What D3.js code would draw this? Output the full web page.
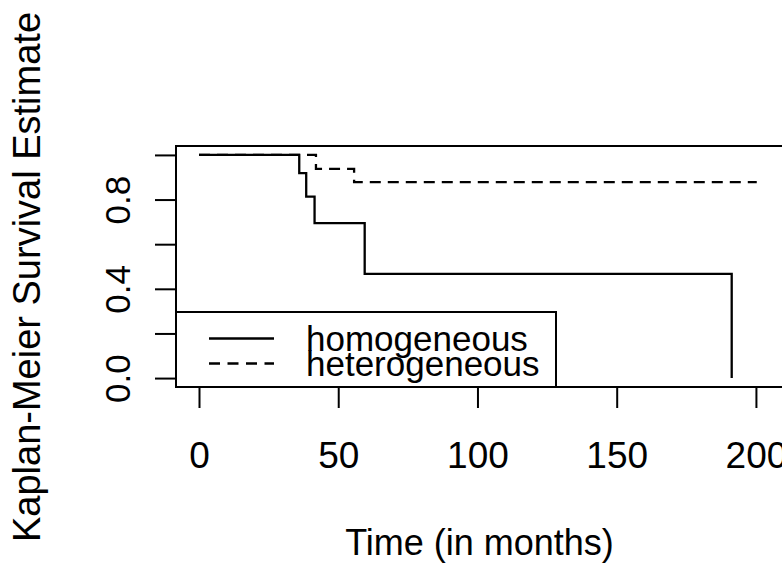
<!DOCTYPE html>
<html>
<head>
<meta charset="utf-8">
<script src="https://cdn.jsdelivr.net/npm/d3@7"></script>
<style>
  html, body { margin: 0; padding: 0; background: #fff; }
  svg { display: block; }
  text { font-family: "Liberation Sans", Arial, sans-serif; fill: #000; }
</style>
</head>
<body>
<div id="chart"></div>
<script>
// ---- data ----
const homTimes = [0, 36, 38.5, 41.5, 59.5, 191.3];
const homSurv  = [1, 0.918, 0.813, 0.694, 0.467, 0];
const hetTimes = [0, 42, 55.7, 200.3];
const hetSurv  = [1, 0.9375, 0.878, 0.878];
const xTicks = [0, 50, 100, 150, 200];
const yTicks = [0, 0.2, 0.4, 0.6, 0.8, 1.0];
const yTickLabels = ["0.0", "", "0.4", "", "0.8", ""];
const legendLabels = ["homogeneous", "heterogeneous"];
const xTitle = "Time (in months)";
const yTitle = "Kaplan-Meier Survival Estimate";

const W = 782, H = 564;
const box = { left: 176, right: 786, top: 146, bottom: 387 };

const svg = d3.select("#chart").append("svg").attr("width", W).attr("height", H);

const x = d3.scaleLinear().domain([-8.26, 210.8]).range([box.left, box.right]);
const y = d3.scaleLinear().domain([-0.04, 1.04]).range([box.bottom, box.top]);

const line = d3.line().x(d => x(d[0])).y(d => y(d[1])).curve(d3.curveStepAfter);

const hetData = hetTimes.map((t, i) => [t, hetSurv[i]]);
const homData = homTimes.map((t, i) => [t, homSurv[i]]);

svg.append("path").attr("d", line(hetData))
  .attr("fill", "none").attr("stroke", "#000").attr("stroke-width", 2.3)
  .attr("stroke-dasharray", "11,7");
svg.append("path").attr("d", line(homData))
  .attr("fill", "none").attr("stroke", "#000").attr("stroke-width", 2.3);

// plot box
svg.append("rect")
  .attr("x", box.left).attr("y", box.top)
  .attr("width", box.right - box.left).attr("height", box.bottom - box.top)
  .attr("fill", "none").attr("stroke", "#000").attr("stroke-width", 2);

// x axis
const xAxis = d3.axisBottom(x).tickValues(xTicks).tickSize(21).tickPadding(1).tickFormat(d3.format("d"));
const gx = svg.append("g").attr("transform", `translate(0,${box.bottom})`).call(xAxis);
gx.select(".domain").remove();
gx.selectAll(".tick line").attr("stroke", "#000").attr("stroke-width", 2);
gx.selectAll(".tick text").attr("font-size", 37).attr("fill", "#000")
  .attr("font-family", "Liberation Sans, Arial, sans-serif")
  .attr("dy", null).attr("y", 81);

// y axis
const yAxis = d3.axisLeft(y).tickValues(yTicks).tickSize(21).tickFormat((d, i) => yTickLabels[i]);
const gy = svg.append("g").attr("transform", `translate(${box.left},0)`).call(yAxis);
gy.select(".domain").remove();
gy.selectAll(".tick line").attr("stroke", "#000").attr("stroke-width", 2);
gy.selectAll(".tick text")
  .attr("font-size", 35).attr("fill", "#000")
  .attr("font-family", "Liberation Sans, Arial, sans-serif")
  .attr("x", null).attr("dy", null)
  .attr("text-anchor", "middle")
  .attr("transform", "translate(-46,0) rotate(-90)");

// axis titles
svg.append("text").attr("x", 479.5).attr("y", 555)
  .attr("text-anchor", "middle").attr("font-size", 36).text(xTitle);
svg.append("text")
  .attr("transform", "translate(40,277) rotate(-90)")
  .attr("text-anchor", "middle").attr("font-size", 38).text(yTitle);

// legend
const lg = svg.append("g");
lg.append("rect").attr("x", box.left).attr("y", 312)
  .attr("width", 556 - box.left).attr("height", box.bottom - 312)
  .attr("fill", "#fff").attr("stroke", "#000").attr("stroke-width", 2);
const legY = [338.5, 363.5];
legendLabels.forEach((lab, i) => {
  lg.append("line").attr("x1", 209).attr("x2", 274).attr("y1", legY[i]).attr("y2", legY[i])
    .attr("stroke", "#000").attr("stroke-width", 2.3)
    .attr("stroke-dasharray", i === 1 ? "11,7.5" : null);
  lg.append("text").attr("x", 306).attr("y", legY[i] + 12.5)
    .attr("font-size", 35).text(lab);
});
</script>
</body>
</html>
